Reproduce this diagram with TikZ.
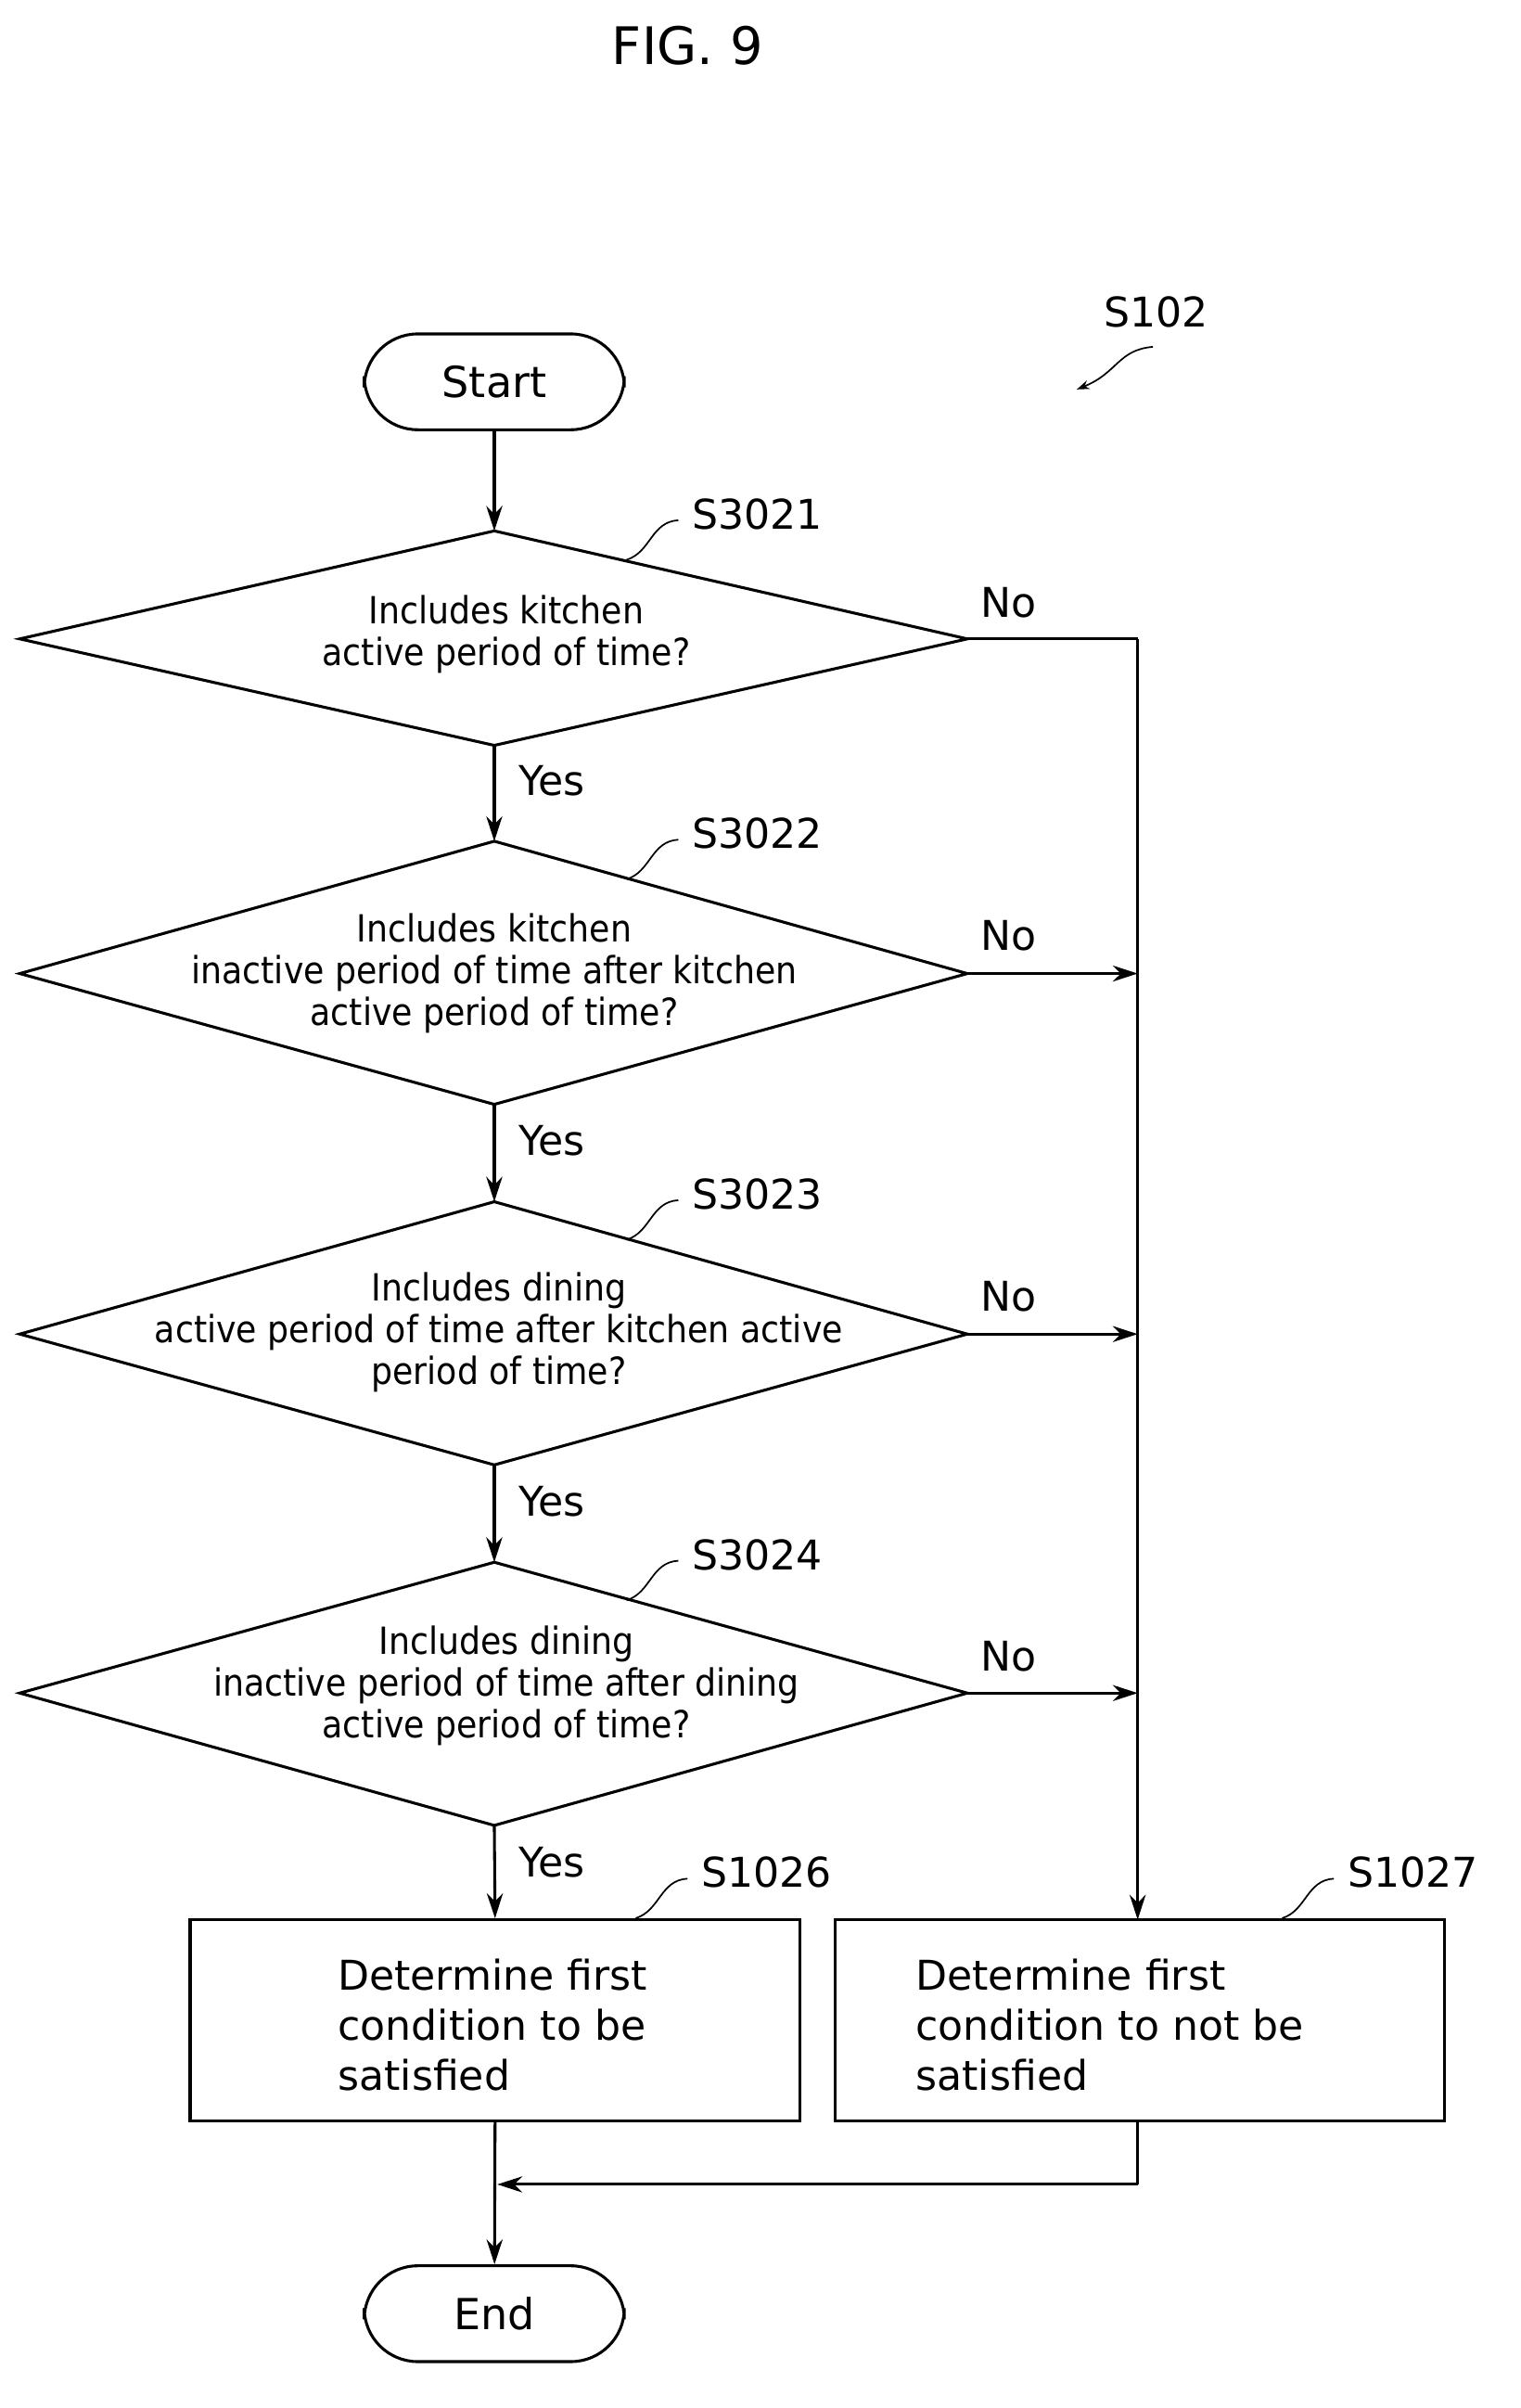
\documentclass[tikz,border=0pt]{standalone}
\usepackage{fontspec}
\setmainfont{DejaVu Sans}
\newfontfamily\condf{DejaVu Sans Condensed}
\usetikzlibrary{arrows.meta}
\begin{document}
\begin{tikzpicture}[x=0.03cm,y=-0.03cm,
  ln/.style={line width=1.6pt},
  arr/.style={ln,-{Stealth[length=14pt,width=9pt]}},
  term/.style={draw,ln,rounded corners=30pt,minimum width=171*0.03cm,minimum height=63*0.03cm,font=\fontsize{24}{28}\selectfont},
  box/.style={draw,ln,minimum width=401*0.03cm,minimum height=132*0.03cm},
  btxt/.style={align=left,font=\fontsize{23}{28}\selectfont,anchor=west},
  dtxt/.style={align=center,font=\condf\fontsize{21}{23.5}\selectfont},
  lab/.style={font=\fontsize{23}{28}\selectfont},
  sq/.style={line width=0.9pt}]
\useasboundingbox (0,0) rectangle (1000,1583);
\node[font=\fontsize{29}{34}\selectfont] (title) at (452,30) {FIG. 9};
\node[lab] (s102) at (760,205) {S102};
\coordinate (q1) at (758,228); \coordinate (q2) at (708,256);
\draw[sq,-{Stealth[length=7pt,width=5pt]}] (q1) .. controls (735,230) and (735,245) .. (q2);
\node[term] (start) at (325,251) {Start};
\node[term] (end) at (325,1521) {End};
% diamonds
\foreach \n/\t/\b/\c in {d1/349/490/420,d2/553/726/640,d3/790/963/877,d4/1027/1200/1113}{
  \coordinate (\n t) at (325,\t); \coordinate (\n b) at (325,\b);
  \coordinate (\n l) at (13,\c); \coordinate (\n r) at (636,\c);
  \draw[ln] (\n t)--(\n r)--(\n b)--(\n l)--cycle;
}
\node[dtxt] (t1) at (333,417) {Includes kitchen\\active period of time?};
\node[dtxt] (t2) at (325,640) {Includes kitchen\\inactive period of time after kitchen\\active period of time?};
\node[dtxt] (t3) at (328,876) {Includes dining\\active period of time after kitchen active\\period of time?};
\node[dtxt] (t4) at (333,1108) {Includes dining\\inactive period of time after dining\\active period of time?};
% step labels
\foreach \n/\x/\y/\s in {l1/498/338/S3021,l2/498/548/S3022,l3/498/785/S3023,l4/498/1022/S3024}{
  \node[lab] (\n) at (\x,\y) {\s};
  \draw[sq] (\x-86,\y+30) .. controls (\x-70,\y+25) and (\x-70,\y+5) .. (\x-52,\y+4);
}
\node[lab] (l5) at (504,1231) {S1026};
\draw[sq] (418,1261) .. controls (434,1256) and (434,1236) .. (452,1235);
\node[lab] (l6) at (929,1231) {S1027};
\draw[sq] (843,1261) .. controls (859,1256) and (859,1236) .. (877,1235);
% boxes
\node[box] (b1) at (325.5,1328) {};
\node[box] (b2) at (749.5,1328) {};
\node[btxt] (bt1) at (218,1331) {Determine first\\condition to be\\satisfied};
\node[btxt] (bt2) at (598,1331) {Determine first\\condition to not be\\satisfied};
% connectors
\draw[arr] (start) -- (d1t);
\draw[arr] (d1b) -- (d2t);
\draw[arr] (d2b) -- (d3t);
\draw[arr] (d3b) -- (d4t);
\draw[arr] (d4b) -- (b1.north);
\coordinate (rc) at (748,420);
\coordinate (rd) at (748,1262);
\draw[ln] (d1r) -- (rc);
\draw[arr] (rc) -- (rd);
\coordinate (j2) at (748,640); \coordinate (j3) at (748,877); \coordinate (j4) at (748,1113);
\draw[arr] (d2r) -- (j2);
\draw[arr] (d3r) -- (j3);
\draw[arr] (d4r) -- (j4);
\coordinate (m1) at (748,1436); \coordinate (m2) at (327,1436);
\draw[ln] (b2.south -| rc) -- (m1);
\draw[arr] (m1) -- (m2);
\draw[arr] (b1.south) -- (end);
% yes/no
\foreach \y in {513,750,987,1224}{ \node[lab,anchor=west] at (337,\y) {Yes}; }
\foreach \y in {396,615,852,1089}{ \node[lab] at (663,\y) {No}; }
\end{tikzpicture}
\end{document}
